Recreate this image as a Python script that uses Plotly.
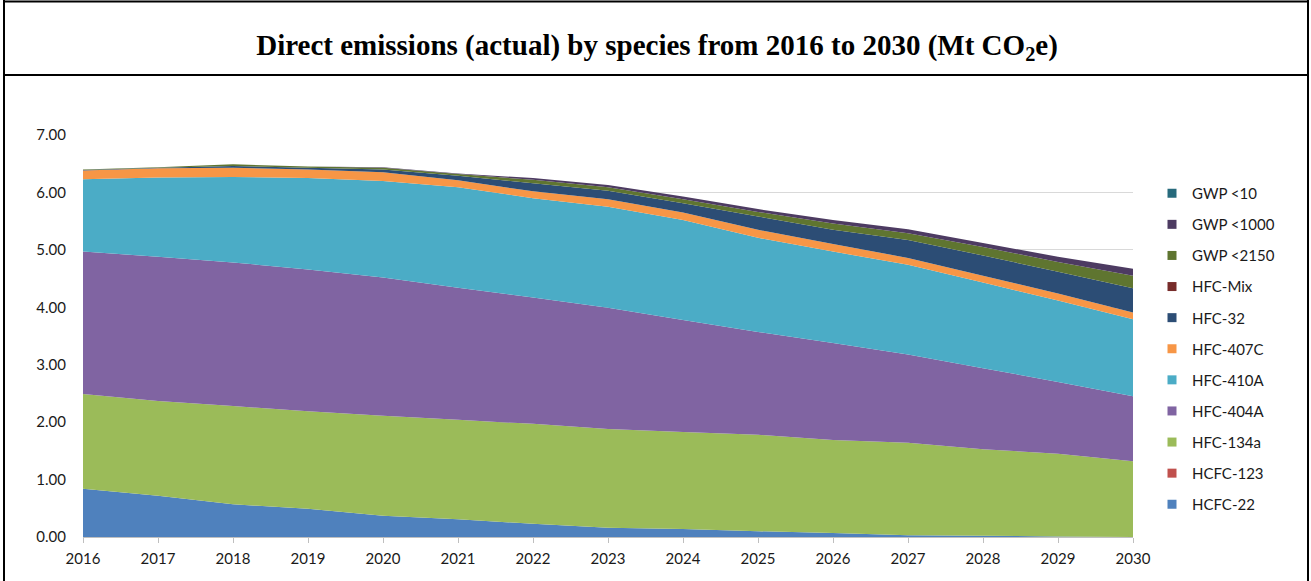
import plotly.graph_objects as go

years = list(range(2016, 2031))

hcfc_22 = [0.84, 0.72, 0.57, 0.49, 0.37, 0.31, 0.23, 0.16, 0.14, 0.10, 0.07, 0.03, 0.02, 0.01, 0.00]
hcfc_123 = [0.00] * 15
hfc_134a = [1.65, 1.65, 1.71, 1.70, 1.74, 1.73, 1.74, 1.72, 1.69, 1.68, 1.62, 1.61, 1.51, 1.44, 1.32]
hfc_404a = [2.48, 2.51, 2.50, 2.47, 2.41, 2.30, 2.20, 2.11, 1.95, 1.79, 1.69, 1.54, 1.41, 1.25, 1.13]
hfc_410a = [1.26, 1.38, 1.49, 1.59, 1.68, 1.75, 1.73, 1.76, 1.74, 1.64, 1.59, 1.56, 1.49, 1.42, 1.34]
hfc_407c = [0.15, 0.16, 0.16, 0.15, 0.15, 0.12, 0.12, 0.13, 0.13, 0.14, 0.13, 0.12, 0.12, 0.12, 0.12]
hfc_32 = [0.01, 0.01, 0.03, 0.03, 0.05, 0.08, 0.14, 0.15, 0.16, 0.23, 0.25, 0.31, 0.35, 0.38, 0.42]
hfc_mix = [0.00] * 15
gwp_2150 = [0.01, 0.01, 0.03, 0.02, 0.03, 0.03, 0.06, 0.06, 0.07, 0.08, 0.11, 0.12, 0.15, 0.17, 0.22]
gwp_1000 = [0.00, 0.00, 0.00, 0.00, 0.01, 0.01, 0.03, 0.04, 0.05, 0.05, 0.06, 0.07, 0.07, 0.09, 0.12]
gwp_10 = [0.00] * 15

series = [
    ("HCFC-22", hcfc_22, "#4F81BD"),
    ("HCFC-123", hcfc_123, "#C0504D"),
    ("HFC-134a", hfc_134a, "#9BBB59"),
    ("HFC-404A", hfc_404a, "#8064A2"),
    ("HFC-410A", hfc_410a, "#4BACC6"),
    ("HFC-407C", hfc_407c, "#F79646"),
    ("HFC-32", hfc_32, "#2C4D75"),
    ("HFC-Mix", hfc_mix, "#772C2A"),
    ("GWP <2150", gwp_2150, "#5F7530"),
    ("GWP <1000", gwp_1000, "#4D3B62"),
    ("GWP <10", gwp_10, "#276A7C"),
]

W, H = 1311, 581
L, R, T, B = 83, 1133, 135, 537

fig = go.Figure()
# legend entries (top of legend = top of stack)
for name, vals, col in reversed(series):
    fig.add_trace(go.Scatter(
        x=[None], y=[None], name=name, mode="markers", legendgroup=name,
        marker=dict(symbol="square", size=9, color=col), hoverinfo="skip"))
# stacked areas
for name, vals, col in series:
    fig.add_trace(go.Scatter(
        x=years, y=vals, name=name, stackgroup="one", mode="none",
        fillcolor=col, showlegend=False, legendgroup=name, hoverinfo="x+y+name"))


def px_x(px):
    return (px - L) / (R - L)


def px_y(py):
    return (B - py) / (B - T)


shapes = [
    dict(type="line", xref="paper", yref="paper", x0=px_x(4), x1=px_x(4), y0=px_y(0), y1=px_y(600),
         line=dict(color="black", width=2)),
    dict(type="line", xref="paper", yref="paper", x0=px_x(1308), x1=px_x(1308), y0=px_y(0), y1=px_y(600),
         line=dict(color="black", width=2)),
    dict(type="line", xref="paper", yref="paper", x0=px_x(3), x1=px_x(1309), y0=px_y(1.5), y1=px_y(1.5),
         line=dict(color="black", width=2)),
    dict(type="line", xref="paper", yref="paper", x0=px_x(3), x1=px_x(1309), y0=px_y(75), y1=px_y(75),
         line=dict(color="black", width=2)),
]

fig.update_layout(
    width=W, height=H,
    margin=dict(l=L, r=W - R, t=T, b=H - B),
    paper_bgcolor="white", plot_bgcolor="white",
    title=dict(
        text="<b>Direct emissions (actual) by species from 2016 to 2030 (Mt CO<sub>2</sub>e)</b>",
        x=657 / W, xanchor="center", y=1 - 45 / H, yanchor="middle",
        font=dict(family="Liberation Serif, Times New Roman, serif", size=29, color="black")),
    font=dict(family="Lato, Open Sans, sans-serif", size=15, color="#262626"),
    xaxis=dict(range=[2016, 2030], tickmode="array", tickvals=years, ticktext=[str(y) for y in years],
               showgrid=False, showline=True, linecolor="#BFBFBF", linewidth=1,
               ticks="outside", ticklen=5, tickcolor="#BFBFBF", zeroline=False,
               ticklabelstandoff=3,
               tickfont=dict(size=15, color="#1a1a1a")),
    yaxis=dict(range=[0, 7], tickmode="array", tickvals=[0, 1, 2, 3, 4, 5, 6, 7],
               tickformat=".2f", showgrid=True, gridcolor="#D9D9D9", gridwidth=1,
               zeroline=False, showline=False, ticklabelstandoff=16,
               tickfont=dict(size=15, color="#1a1a1a")),
    legend=dict(x=px_x(1152), xanchor="left", y=px_y(177), yanchor="top",
                traceorder="grouped", tracegroupgap=8.6,
                font=dict(size=15, color="#1a1a1a"), bgcolor="rgba(0,0,0,0)"),
    shapes=shapes,
    showlegend=True,
)

fig.write_html("out.html", config={"displayModeBar": False},
               post_script="document.body.style.margin='0';")
